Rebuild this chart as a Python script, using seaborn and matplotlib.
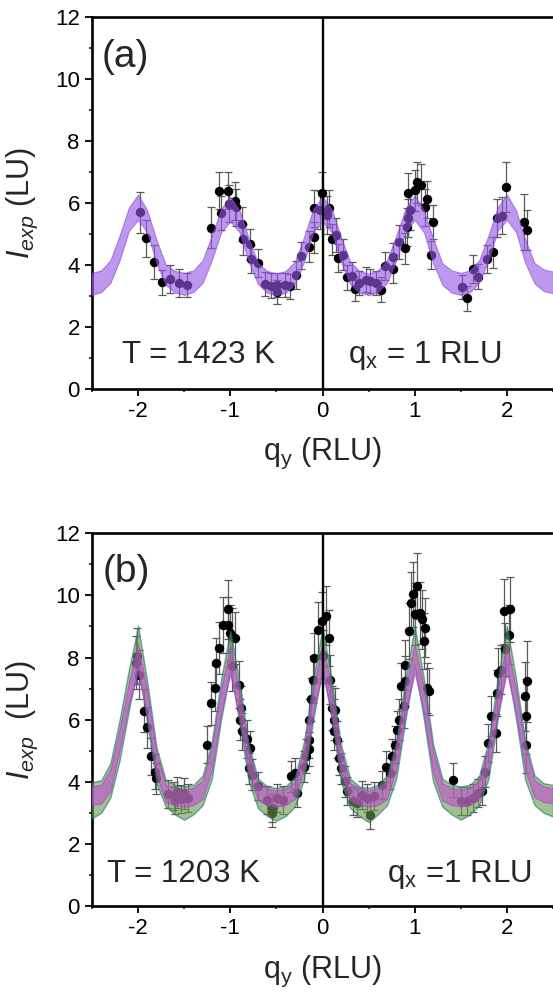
import matplotlib
matplotlib.use("Agg")
import matplotlib.pyplot as plt
import numpy as np
import pandas as pd
import seaborn as sns
from matplotlib.ticker import MultipleLocator

# ---------------------------------------------------------------- data
# q_y grid on which the simulated intensity bands are evaluated
q_grid = [-2.5, -2.4, -2.3, -2.2, -2.1, -2.0, -1.9, -1.8, -1.7, -1.6,
          -1.5, -1.4, -1.3, -1.2, -1.1, -1.0, -0.9, -0.8, -0.7, -0.6,
          -0.5, -0.4, -0.3, -0.2, -0.1, 0.0, 0.1, 0.2, 0.3, 0.4,
          0.5, 0.6, 0.7, 0.8, 0.9, 1.0, 1.1, 1.2, 1.3, 1.4,
          1.5, 1.6, 1.7, 1.8, 1.9, 2.0, 2.1, 2.2, 2.3, 2.4, 2.5]

# (a) T = 1423 K : simulated band
band_a_hi = [3.74, 3.82, 4.15, 4.95, 5.85, 6.27, 5.75, 4.80, 4.00, 3.80,
             3.74, 3.82, 4.15, 4.95, 5.80, 6.20, 5.75, 4.85, 4.05, 3.80,
             3.72, 3.80, 4.10, 4.90, 5.80, 6.20, 5.80, 4.90, 4.10, 3.80,
             3.72, 3.82, 4.15, 4.95, 5.80, 6.25, 5.75, 4.85, 4.05, 3.82,
             3.74, 3.82, 4.15, 4.95, 5.85, 6.27, 5.75, 4.80, 4.05, 3.85, 3.78]
band_a_lo = [3.03, 3.12, 3.42, 4.15, 5.10, 5.45, 5.05, 4.05, 3.35, 3.10,
             3.03, 3.12, 3.42, 4.15, 5.05, 5.40, 5.05, 4.10, 3.38, 3.10,
             3.02, 3.10, 3.38, 4.10, 5.05, 5.40, 5.05, 4.10, 3.38, 3.10,
             3.02, 3.12, 3.42, 4.15, 5.05, 5.45, 5.05, 4.05, 3.35, 3.10,
             3.03, 3.12, 3.42, 4.15, 5.10, 5.45, 5.05, 4.05, 3.40, 3.15, 3.08]

# (a) measured intensities
qy_a = [-1.98, -1.91, -1.83, -1.74, -1.65, -1.56, -1.47, -1.21, -1.12, -1.10,
        -1.03, -1.01, -0.95, -0.94, -0.87, -0.86, -0.79, -0.78, -0.70, -0.62,
        -0.56, -0.49, -0.49, -0.41, -0.35, -0.29, -0.23, -0.15, -0.09, -0.09,
        -0.01, -0.03, 0.05, 0.07, 0.10, 0.15, 0.17, 0.22, 0.27, 0.32,
        0.35, 0.40, 0.47, 0.52, 0.58, 0.63, 0.68, 0.76, 0.77, 0.83,
        0.89, 0.92, 0.93, 0.95, 0.93, 1.00, 1.02, 1.07, 1.11, 1.13,
        1.20, 1.18, 1.51, 1.57, 1.63, 1.69, 1.78, 1.85, 1.89, 1.95,
        1.99, 2.19, 2.22]
I_a = [5.69, 4.86, 4.08, 3.43, 3.54, 3.41, 3.35, 5.20, 6.39, 5.67,
       6.39, 5.97, 6.06, 5.86, 5.32, 4.83, 4.67, 4.18, 4.05, 3.38,
       3.33, 3.12, 3.35, 3.35, 3.30, 3.67, 4.30, 4.59, 4.89, 5.83,
       6.33, 5.77, 5.61, 5.83, 4.83, 4.97, 4.22, 4.32, 3.60, 3.65,
       3.22, 3.41, 3.52, 3.48, 3.41, 3.19, 3.95, 3.86, 4.25, 4.73,
       4.54, 5.22, 5.51, 5.77, 6.31, 6.40, 6.66, 6.59, 5.86, 6.12,
       5.38, 4.32, 3.28, 2.92, 3.86, 3.62, 4.18, 4.40, 5.51, 5.59,
       6.51, 5.37, 5.13]
err_a = [0.65, 0.60, 0.55, 0.40, 0.45, 0.45, 0.40, 0.65, 0.60, 0.55,
         0.60, 0.60, 0.60, 0.60, 0.55, 0.50, 0.50, 0.45, 0.45, 0.40,
         0.40, 0.40, 0.40, 0.40, 0.40, 0.45, 0.45, 0.50, 0.50, 0.60,
         0.65, 0.60, 0.60, 0.60, 0.50, 0.55, 0.45, 0.50, 0.40, 0.45,
         0.40, 0.40, 0.40, 0.40, 0.40, 0.40, 0.45, 0.45, 0.45, 0.55,
         0.50, 0.60, 0.60, 0.65, 0.65, 0.65, 0.65, 0.65, 0.60, 0.60,
         0.55, 0.45, 0.40, 0.40, 0.45, 0.40, 0.45, 0.50, 0.60, 0.60,
         0.80, 0.90, 0.65]

# (b) T = 1203 K : two simulated bands
band_g_hi = [3.98, 4.05, 4.60, 6.00, 7.60, 9.02, 7.20, 5.10, 4.05, 3.90,
             3.85, 3.90, 4.20, 5.30, 7.30, 8.85, 7.20, 5.20, 4.10, 3.85,
             3.80, 3.85, 4.15, 5.30, 7.30, 8.95, 7.30, 5.20, 4.10, 3.85,
             3.80, 3.90, 4.20, 5.30, 7.30, 9.00, 7.30, 5.20, 4.10, 3.90,
             3.85, 3.90, 4.20, 5.30, 7.30, 9.02, 7.30, 5.30, 4.20, 3.95, 3.90]
band_g_lo = [2.83, 3.00, 3.50, 4.70, 6.30, 7.75, 5.90, 3.95, 3.20, 2.95,
             2.78, 2.95, 3.25, 4.10, 6.00, 7.60, 5.90, 4.00, 3.15, 2.90,
             2.75, 2.90, 3.20, 4.10, 6.00, 7.70, 6.00, 4.00, 3.15, 2.90,
             2.70, 2.95, 3.25, 4.10, 6.00, 7.75, 6.00, 4.00, 3.20, 2.95,
             2.78, 2.95, 3.25, 4.10, 6.00, 7.75, 6.00, 4.05, 3.25, 3.00, 2.88]
band_m_hi = [3.85, 3.90, 4.40, 5.70, 7.20, 8.45, 6.90, 4.90, 3.90, 3.80,
             3.75, 3.80, 4.05, 5.10, 7.00, 8.40, 6.90, 5.00, 3.95, 3.78,
             3.72, 3.78, 4.00, 5.10, 7.00, 8.45, 7.00, 5.00, 3.95, 3.80,
             3.72, 3.80, 4.05, 5.10, 7.00, 8.45, 7.00, 5.00, 3.95, 3.80,
             3.75, 3.80, 4.05, 5.10, 7.00, 8.45, 7.00, 5.10, 4.05, 3.85, 3.80]
band_m_lo = [3.26, 3.30, 3.70, 5.00, 6.50, 7.50, 6.10, 4.20, 3.35, 3.25,
             3.20, 3.25, 3.45, 4.40, 6.20, 7.45, 6.10, 4.30, 3.40, 3.25,
             3.20, 3.25, 3.45, 4.40, 6.20, 7.50, 6.20, 4.30, 3.40, 3.25,
             3.20, 3.25, 3.45, 4.40, 6.20, 7.50, 6.20, 4.30, 3.40, 3.25,
             3.20, 3.25, 3.45, 4.40, 6.20, 7.50, 6.20, 4.35, 3.50, 3.35, 3.30]

# (b) measured intensities
qy_b = [-2.01, -2.02, -1.99, -1.94, -1.90, -1.86, -1.82, -1.81,
        -1.68, -1.61, -1.58, -1.54, -1.50, -1.46, -1.60,
        -1.25, -1.21, -1.17, -1.15, -1.12, -1.08, -1.03, -1.03, -1.00, -0.98,
        -0.95, -0.98, -0.91, -0.88, -0.90, -0.87, -0.82, -0.79, -0.80, -0.76,
        -0.70, -0.60, -0.55, -0.55, -0.49, -0.43, -0.34, -0.30, -0.28, -0.20,
        -0.18, -0.15, -0.15, -0.15, -0.13, -0.10, -0.09, -0.05, -0.01, 0.01,
        0.04, 0.07, 0.08, 0.10, 0.14, 0.12, 0.12, 0.16, 0.18, 0.20,
        0.24, 0.27,
        0.33, 0.37, 0.43, 0.48, 0.52, 0.56, 0.64, 0.69, 0.73, 0.75,
        0.79, 0.81, 0.83, 0.88, 0.85, 0.89, 0.90, 0.94, 0.96, 0.98,
        1.02, 1.00, 1.06, 1.08, 1.11, 1.10, 1.13, 1.16,
        1.41, 1.50, 1.57, 1.63, 1.69, 1.73, 1.76, 1.80, 1.83, 1.88,
        1.89, 1.90, 1.94, 1.98, 1.97, 2.03, 2.02,
        2.20, 2.22, 2.21, 2.21]
I_b = [8.04, 7.83, 7.45, 6.29, 5.75, 4.82, 4.33, 4.12,
       3.60, 3.55, 3.66, 3.44, 3.63, 3.47, 3.42,
       5.19, 6.52, 7.02, 7.83, 8.31, 9.06, 9.55, 9.06, 8.80, 8.69,
       8.63, 7.72, 7.13, 6.38, 6.00, 5.62, 5.38, 5.09, 4.44, 4.23,
       3.85, 3.42, 3.15, 2.99, 3.47, 3.42, 4.17, 4.28, 3.63, 4.49,
       4.82, 5.05, 5.35, 6.00, 6.65, 7.29, 7.99, 8.90, 9.17, 8.04,
       9.35, 8.63, 7.29, 6.38, 6.32, 6.00, 5.62, 5.35, 4.76, 4.44,
       4.01, 3.69,
       3.37, 3.31, 3.58, 3.47, 2.94, 3.53, 3.90, 4.49, 4.28, 4.82,
       5.19, 5.68, 6.00, 6.43, 7.08, 7.24, 7.77, 8.85, 9.76, 10.03,
       10.30, 9.39, 9.44, 9.23, 8.96, 8.53, 7.02, 6.91,
       4.06, 3.37, 3.37, 3.47, 3.63, 3.69, 4.33, 5.25, 6.11, 5.57,
       6.86, 7.51, 7.61, 8.26, 9.49, 9.55, 8.74,
       6.75, 7.24, 6.11, 5.19]
err_b = [0.90, 0.85, 0.80, 0.70, 0.65, 0.60, 0.55, 0.50,
         0.45, 0.45, 0.50, 0.45, 0.50, 0.45, 0.45,
         0.60, 0.70, 0.75, 0.80, 0.85, 0.90, 0.95, 0.90, 0.90, 0.90,
         0.85, 0.80, 0.75, 0.70, 0.65, 0.60, 0.60, 0.55, 0.50, 0.50,
         0.45, 0.45, 0.45, 0.45, 0.45, 0.45, 0.50, 0.50, 0.45, 0.50,
         0.55, 0.55, 0.60, 0.65, 0.70, 0.75, 0.80, 0.90, 0.95, 0.85,
         0.95, 0.90, 0.80, 0.70, 0.70, 0.65, 0.60, 0.60, 0.55, 0.50,
         0.50, 0.45,
         0.45, 0.45, 0.45, 0.45, 0.45, 0.45, 0.45, 0.50, 0.50, 0.55,
         0.60, 0.60, 0.65, 0.70, 0.75, 0.80, 0.80, 0.90, 1.00, 1.05,
         1.05, 1.00, 1.00, 0.95, 0.95, 0.90, 0.80, 0.75,
         0.55, 0.45, 0.45, 0.45, 0.45, 0.45, 0.50, 0.60, 0.65, 0.60,
         0.75, 0.80, 0.80, 0.85, 1.05, 1.05, 0.95,
         1.10, 1.30, 1.20, 0.90]

y_ticks = [0, 2, 4, 6, 8, 10, 12]
x_ticks = [-2, -1, 0, 1, 2]

# ---------------------------------------------------------------- style
sns.set_theme(style="ticks")
plt.rcParams["font.family"] = ["Liberation Sans", "DejaVu Sans"]
plt.rcParams["mathtext.fontset"] = "custom"
plt.rcParams["mathtext.rm"] = "Liberation Sans"
plt.rcParams["mathtext.it"] = "Liberation Sans:italic"
plt.rcParams["mathtext.bf"] = "Liberation Sans:bold"

W, H = 553, 992
fig = plt.figure(figsize=(W / 100, H / 100), dpi=100)


def px_axes(left, top, right, bottom):
    return fig.add_axes([left / W, 1 - bottom / H, (right - left) / W, (bottom - top) / H])


ax_a = px_axes(92, 17, 553, 388.7)
ax_b = px_axes(92, 533.3, 553, 906)


def style_axes(ax, ylabel):
    ax.set_xlim(-2.5, 2.5)
    ax.set_ylim(0, 12)
    ax.set_xticks(x_ticks)
    ax.set_xticklabels([str(t) for t in x_ticks])
    ax.set_yticks(y_ticks)
    ax.set_yticklabels([str(t) for t in y_ticks])
    ax.xaxis.set_minor_locator(MultipleLocator(0.5))
    ax.yaxis.set_minor_locator(MultipleLocator(1))
    ax.tick_params(which="major", direction="out", length=4.8, width=1.3,
                   labelsize=16, pad=4.0, colors="black", top=False, right=False)
    ax.tick_params(which="minor", direction="out", length=2.5, width=1.2,
                   top=False, right=False)
    for side in ("left", "bottom", "top"):
        ax.spines[side].set_linewidth(1.9)
        ax.spines[side].set_color("black")
    ax.spines["right"].set_visible(False)
    ax.axvline(0, color="black", lw=1.7, zorder=8)
    ax.set_xlabel(r"q$_\mathregular{y}$ (RLU)", fontsize=22)
    ax.xaxis.set_label_coords(0.5, -0.128)
    ax.set_ylabel(ylabel, fontsize=22)
    ax.yaxis.set_label_coords(-0.112, 0.5)


def draw_points(ax, qy, inten, err):
    df = pd.DataFrame({"qy": qy, "I": inten, "err": err})
    ax.errorbar(df["qy"], df["I"], yerr=df["err"], fmt="none", ecolor="#5a5a5a",
                elinewidth=0.9, capsize=3.2, capthick=0.9, zorder=2)
    sns.scatterplot(data=df, x="qy", y="I", ax=ax, color="black", s=46,
                    linewidth=0, zorder=3, legend=False)


# ---- panel (a)
draw_points(ax_a, qy_a, I_a, err_a)
ax_a.fill_between(q_grid, band_a_lo, band_a_hi, facecolor="#9658e4", alpha=0.62,
                  edgecolor="#8a4ad8", linewidth=0.8, zorder=5)
style_axes(ax_a, r"$I_{exp}$ (LU)")
ax_a.text(-2.40, 10.4, "(a)", fontsize=28, ha="left", va="baseline")
ax_a.text(-2.17, 0.83, "T = 1423 K", fontsize=22.5, ha="left", va="baseline")
ax_a.text(0.28, 0.83, r"q$_\mathregular{x}$ = 1 RLU", fontsize=22.5, ha="left", va="baseline")

# ---- panel (b)
draw_points(ax_b, qy_b, I_b, err_b)
ax_b.fill_between(q_grid, band_g_lo, band_g_hi, facecolor="#6a9a4c", alpha=0.62,
                  edgecolor="#1f7a70", linewidth=1.0, zorder=5)
ax_b.fill_between(q_grid, band_m_lo, band_m_hi, facecolor="#c04ed2", alpha=0.6,
                  edgecolor="#a23ed0", linewidth=0.8, zorder=6)
style_axes(ax_b, r"$I_{exp}$  (LU)")
ax_b.text(-2.38, 10.44, "(b)", fontsize=28, ha="left", va="baseline")
ax_b.text(-2.34, 0.78, "T = 1203 K", fontsize=22.5, ha="left", va="baseline")
ax_b.text(0.70, 0.78, r"q$_\mathregular{x}$ =1 RLU", fontsize=22.5, ha="left", va="baseline")

fig.savefig("out.png", dpi=100)
